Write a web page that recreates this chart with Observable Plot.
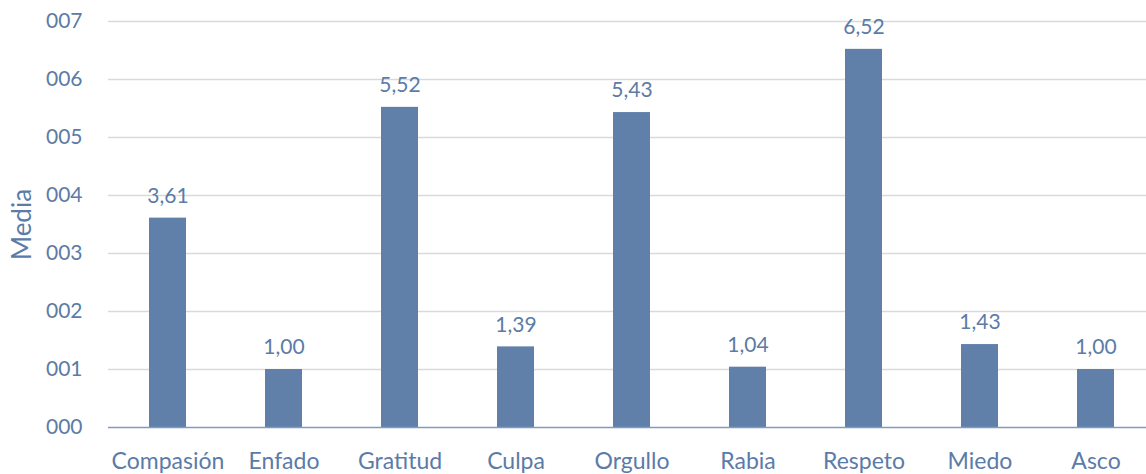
<!DOCTYPE html>
<html>
<head>
<meta charset="utf-8">
<script src="https://cdn.jsdelivr.net/npm/d3@7"></script>
<script src="https://cdn.jsdelivr.net/npm/@observablehq/plot@0.6"></script>
<style>
  html, body { margin: 0; padding: 0; background: #fff; }
  #chart svg { display: block; }
</style>
</head>
<body>
<div id="chart"></div>
<script>
const categories = ["Compasión", "Enfado", "Gratitud", "Culpa", "Orgullo", "Rabia", "Respeto", "Miedo", "Asco"];
const values = [3.61, 1.00, 5.52, 1.39, 5.43, 1.04, 6.52, 1.43, 1.00];
const yTicks = [0, 1, 2, 3, 4, 5, 6, 7];
const yTickLabels = ["000", "001", "002", "003", "004", "005", "006", "007"];
const yLabel = "Media";

const data = categories.map((c, i) => ({category: c, value: values[i]}));
const barColor = "#6080aa";
const textColor = "#5b7ba8";
const fmt = v => v.toFixed(2).replace(".", ",");

const chart = Plot.plot({
  width: 1146,
  height: 474,
  marginLeft: 108,
  marginRight: 0,
  marginTop: 21,
  marginBottom: 47,
  style: {fontFamily: "Lato, sans-serif", fontSize: "21px", color: textColor, background: "#fff"},
  x: {domain: categories, range: [108.4, 1154.6], paddingInner: 0.68, paddingOuter: 0.34, label: null},
  y: {domain: [0, 7], range: [427, 21], label: null},
  marks: [
    Plot.ruleY(yTicks.filter(d => d > 0), {stroke: "#d9d9d9", strokeWidth: 1.4}),
    Plot.barY(data, {x: "category", y: "value", fill: barColor}),
    Plot.ruleY([0], {stroke: "#7f9bc2", strokeWidth: 1.4}),
    Plot.text(data, {x: "category", y: "value", text: d => fmt(d.value), dy: -22, fill: textColor, fontSize: 21}),
    Plot.axisX({tickSize: 0, tickPadding: 25, fill: textColor, fontSize: 23, label: null}),
    Plot.axisY({ticks: yTicks, tickFormat: d => yTickLabels[yTicks.indexOf(d)], tickSize: 0, tickPadding: 26, fill: textColor, fontSize: 21, label: null}),
    Plot.axisY({ticks: [], tickSize: 0, label: yLabel, labelAnchor: "center", labelArrow: "none", labelOffset: 96, fill: textColor, fontSize: 26})
  ]
});
document.getElementById("chart").appendChild(chart);
</script>
</body>
</html>
